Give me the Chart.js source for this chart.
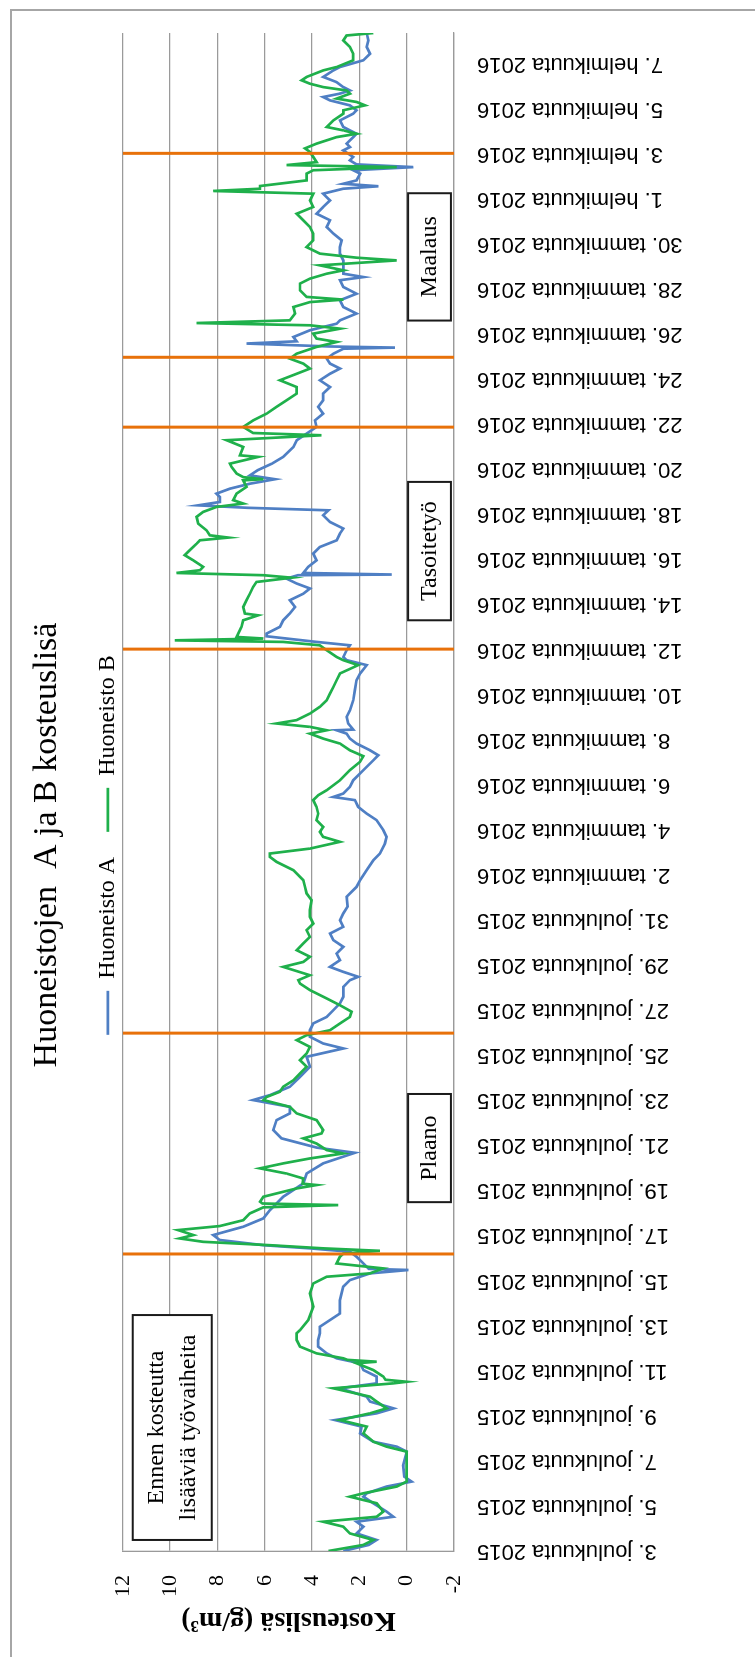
<!DOCTYPE html>
<html lang="fi">
<head>
<meta charset="utf-8">
<title>Huoneistojen A ja B kosteuslisä</title>
<script src="https://cdn.jsdelivr.net/npm/chart.js@4.4.1/dist/chart.umd.min.js"></script>
<style>
  html, body { margin: 0; padding: 0; background: #fff; overflow: hidden; }
  body { width: 755px; height: 1657px; position: relative; }
  #frame { position: absolute; left: 10px; top: 9px; width: 760px; height: 1660px;
           border: 2px solid #a6a6a6; box-sizing: border-box; }
  /* chart is drawn landscape and turned a quarter to the left */
  #wrap { position: absolute; left: 0; top: 0; width: 1657px; height: 755px;
          transform-origin: 0 0; transform: translate(0, 1657px) rotate(-90deg); }
</style>
</head>
<body>
<div id="frame"></div>
<div id="wrap"><canvas id="chart" width="1657" height="755"></canvas></div>
<script>
// ── Data (x = days from 3.12.2015, y = g/m³) ─────────────────────────────
const dateLabels = [
  '3. joulukuuta 2015', '5. joulukuuta 2015', '7. joulukuuta 2015', '9. joulukuuta 2015',
  '11. joulukuuta 2015', '13. joulukuuta 2015', '15. joulukuuta 2015', '17. joulukuuta 2015',
  '19. joulukuuta 2015', '21. joulukuuta 2015', '23. joulukuuta 2015', '25. joulukuuta 2015',
  '27. joulukuuta 2015', '29. joulukuuta 2015', '31. joulukuuta 2015',
  '2. tammikuuta 2016', '4. tammikuuta 2016', '6. tammikuuta 2016', '8. tammikuuta 2016',
  '10. tammikuuta 2016', '12. tammikuuta 2016', '14. tammikuuta 2016', '16. tammikuuta 2016',
  '18. tammikuuta 2016', '20. tammikuuta 2016', '22. tammikuuta 2016', '24. tammikuuta 2016',
  '26. tammikuuta 2016', '28. tammikuuta 2016', '30. tammikuuta 2016',
  '1. helmikuuta 2016', '3. helmikuuta 2016', '5. helmikuuta 2016', '7. helmikuuta 2016'
];

const daysA = [
  0, 0.27, 0.49, 0.78, 1.08, 1.3, 1.52, 1.75, 2.12, 2.41, 2.56, 2.86, 3.08, 3.3, 3.8, 4.41, 4.63, 4.85,
  5.22, 5.52, 5.81, 6.11, 6.33, 6.63, 6.85, 7.22, 7.44, 7.74, 8.03, 8.33, 8.55, 8.77, 9.07, 9.36, 9.66, 9.95,
  10.54, 11.13, 11.73, 12.02, 12.32, 12.47, 12.52, 12.76, 13.06, 13.28, 13.43, 13.57, 13.8, 14.02, 14.39,
  14.76, 15.13, 15.72, 16.31, 16.75, 17.2, 17.67, 17.9, 18.31, 18.68, 19.12, 19.42, 19.71, 20.01, 20.23,
  20.6, 21.04, 21.49, 21.93, 22.3, 22.52, 22.82, 23.11, 23.41, 23.7, 24, 24.3, 24.59, 25.03, 25.33, 25.48,
  25.7, 25.92, 26.22, 26.51, 26.81, 27.11, 27.4, 27.7, 27.99, 28.29, 28.6, 29.03, 29.47, 29.77, 30.21,
  30.65, 30.95, 31.39, 31.69, 31.99, 32.43, 32.72, 33.02, 33.32, 33.46, 33.61, 33.91, 34.2, 34.65, 35.09,
  35.31, 35.53, 35.83, 36.05, 36.27, 36.42, 36.45, 36.72, 37.01, 37.31, 37.75, 38.2, 38.64, 38.94, 39.31,
  39.53, 39.67, 39.97, 40.19, 40.34, 40.59, 40.71, 41.01, 41.3, 41.6, 41.89, 42.19, 42.48, 42.71, 42.93,
  43.15, 43.3, 43.33, 43.4, 43.67, 43.96, 44.26, 44.55, 44.85, 45.15, 45.37, 45.66, 45.96, 46.18, 46.29,
  46.4, 46.55, 46.77, 46.92, 47.14, 47.36, 47.56, 47.73, 47.96, 48.25, 48.55, 48.99, 49.29, 49.58, 49.88,
  50.17, 50.47, 50.77, 51.06, 51.36, 51.65, 51.95, 52.24, 52.47, 52.69, 52.91, 53.13, 53.35, 53.4, 53.45,
  53.58, 53.68, 53.87, 54.17, 54.46, 54.61, 54.91, 55.2, 55.5, 55.79, 56.09, 56.39, 56.53, 56.68, 56.98,
  57.27, 57.57, 57.86, 58.16, 58.46, 58.75, 59.05, 59.34, 59.64, 59.93, 60.23, 60.45, 60.56, 60.67, 60.82,
  61.12, 61.27, 61.41, 61.53, 61.71, 61.86, 62.15, 62.3, 62.45, 62.74, 62.89, 63.04, 63.19, 63.48, 63.78,
  63.93, 64.15, 64.37, 64.52, 64.67, 64.81, 64.96, 65.18, 65.41, 65.7, 65.85, 66.15, 66.44, 66.74, 67.03, 67.36
];
const kosteusA = [
  2.68, 1.6, 1.27, 2.12, 1.83, 2.12, 0.56, 0.85, 1.41, 1.83, 1.69, 0.85, -0.21, 0.1, 0.15, 0, 0.42, 1.41,
  1.97, 1.9, 3.03, 1.27, 0.56, 1.55, 1.69, 2.82, 1.27, 1.27, 1.83, 1.97, 2.96, 3.38, 3.74, 3.74, 3.67, 3.67,
  2.82, 2.82, 2.68, 2.4, 1.55, -0.07, 1.6, 1.83, 2.12, 2.4, 4.09, 6.06, 7.9, 8.18, 6.91,
  6.06, 5.78, 5.22, 4.37, 4.23, 3.53, 2.19, 3.8, 5.29, 5.64, 5.5, 4.94, 4.94, 6.49, 5.78,
  4.94, 4.51, 4.09, 4.23, 2.68, 3.53, 4.09, 4.09, 3.95, 3.38, 3.1, 2.82, 2.68, 2.68, 2.4, 2.05,
  2.68, 3.24, 2.82, 2.96, 2.68, 3.1, 3.24, 2.68, 2.82, 2.68, 2.5, 2.54, 2.12, 1.97, 1.69,
  1.41, 1.13, 0.92, 0.85, 0.99, 1.27, 1.69, 2.05, 2.19, 3.1, 2.68, 2.4, 2.26, 1.83, 1.41,
  1.2, 1.55, 2.12, 2.4, 2.54, 2.96, 2.26, 2.47, 2.54, 2.4, 2.26, 2.19, 2.12, 1.97, 1.69,
  2.54, 2.68, 2.54, 2.4, 3.81, 5.92, 5.92, 5.36, 5.22, 4.94, 4.72, 4.94, 4.37, 4.09, 4.65,
  5.08, 4.6, 0.63, 4.37, 4.16, 3.81, 3.95, 3.67, 2.96, 2.82, 2.68, 3.24, 3.53, 3.31, 6.7,
  8.81, 7.9, 7.9, 8.04, 7.47, 6.63, 5.57, 6.63, 6.3, 5.7, 5.22, 4.79, 4.65, 4.23, 3.81,
  3.88, 3.53, 3.74, 3.53, 3.53, 3.24, 3.67, 3.24, 2.82, 3.24, 3.38, 3.1, 2.68, 0.49, 3.24,
  6.77, 4.65, 4.79, 4.09, 2.96, 2.82, 2.12, 2.68, 2.82, 2.12, 2.68, 2.82, 1.83, 2.68, 2.68,
  2.68, 2.82, 2.82, 2.75, 3.1, 3.38, 3.24, 3.81, 3.53, 3.24, 3.53, 2.68, 1.2, 2.68, 2.12,
  1.97, 2.26, -0.28, 2.12, 2.4, 2.26, 2.68, 2.4, 2.54, 2.26, 2.12, 2.4, 2.68, 2.82, 2.26,
  2.12, 2.4, 3.24, 3.53, 2.82, 2.4, 2.68, 2.96, 3.53, 3.1, 2.82, 1.83, 1.55, 1.69, 1.62, 1.69
];

const daysB = [
  0, 0.27, 0.49, 0.78, 1.08, 1.3, 1.52, 1.75, 2.12, 2.41, 2.56, 2.86, 3.08, 4.41, 4.63, 4.85, 5.22, 5.52,
  5.81, 6.11, 6.33, 6.63, 6.85, 7.22, 7.44, 7.51, 7.6, 7.74, 8.03, 8.33, 8.4, 8.48, 8.55, 8.77, 9.07, 9.36,
  9.66, 9.8, 10.25, 10.84, 11.43, 11.87, 12.17, 12.32, 12.54, 12.76, 13.06, 13.2, 13.32, 13.43, 13.57,
  13.72, 13.87, 14.02, 14.24, 14.42, 14.68, 14.98, 15.25, 15.35, 15.42, 15.5, 15.72, 16.09, 16.24, 16.3,
  16.53, 16.75, 16.98, 17.2, 17.42, 17.64, 17.79, 18.08, 18.31, 18.53, 18.68, 19.12, 19.42, 19.71, 20.01,
  20.15, 20.38, 20.6, 20.89, 21.19, 21.49, 21.78, 22.08, 22.37, 22.67, 22.89, 23.11, 23.41, 23.7, 23.93,
  24.22, 24.52, 24.89, 25.18, 25.33, 25.55, 25.92, 26.14, 26.37, 26.66, 26.96, 27.25, 27.55, 27.84, 28.14,
  28.44, 28.88, 29.18, 29.47, 29.77, 30.21, 30.58, 30.8, 30.95, 31.17, 31.47, 31.69, 31.91, 32.13, 32.43,
  32.72, 33.02, 33.32, 33.54, 33.76, 34.2, 34.65, 35.02, 35.27, 35.53, 35.83, 36.05, 36.27, 36.42, 36.57,
  36.72, 36.87, 37.16, 37.46, 37.75, 38.05, 38.34, 38.64, 38.94, 39.31, 39.53, 39.67, 39.97, 40.19, 40.34,
  40.41, 40.49, 40.56, 40.71, 41.01, 41.3, 41.52, 41.6, 41.89, 42.19, 42.48, 42.78, 43, 43.19, 43.3, 43.4,
  43.52, 43.67, 43.96, 44.19, 44.41, 44.7, 44.85, 44.97, 45.07, 45.29, 45.59, 45.89, 46.11, 46.33, 46.48,
  46.63, 46.92, 47.22, 47.51, 47.56, 47.65, 47.81, 48.1, 48.25, 48.55, 48.62, 48.99, 49.29, 49.51, 49.61,
  49.88, 50.17, 50.47, 50.77, 51.06, 51.36, 51.65, 51.95, 52.24, 52.47, 52.69, 52.91, 53.13, 53.43, 53.65,
  53.8, 54.02, 54.24, 54.39, 54.49, 54.61, 54.91, 55.2, 55.42, 55.53, 55.65, 55.94, 56.24, 56.46, 56.68,
  56.83, 57.05, 57.27, 57.39, 57.57, 57.86, 58.16, 58.46, 58.75, 59.05, 59.34, 59.64, 59.93, 60.23, 60.35,
  60.45, 60.57, 60.82, 61.12, 61.27, 61.41, 61.5, 61.63, 61.86, 62.08, 62.24, 62.45, 62.74, 62.89, 63.04,
  63.19, 63.48, 63.78, 63.93, 64.15, 64.3, 64.45, 64.67, 64.81, 64.96, 65.11, 65.26, 65.41, 65.7, 65.85,
  66.15, 66.44, 66.74, 67.03, 67.25, 67.36
];
const kosteusB = [
  3.31, 1.83, 1.41, 2.4, 2.68, 3.53, 1.27, 0.99, 1.27, 2.4, 1.83, 0.42, 0, 0, 0.85, 1.41, 1.83, 1.69,
  2.82, 1.55, 0.85, 1.27, 1.55, 3.1, 0.56, 0, 0.9, 0.99, 1.41, 2.12, 1.27, 2.5, 2.68, 3.81, 4.51, 4.65,
  4.65, 4.51, 4.16, 3.95, 4.09, 3.95, 3.38, 1.55, 0.99, 2.96, 2.82, 2.68, 1.13, 3.53, 5.78,
  8.6, 9.59, 9.02, 9.66, 7.9, 6.91, 6.63, 6.06, 2.89, 6.1, 6.2, 6.06, 4.65, 3.81, 4.4,
  4.37, 5.08, 6.2, 5.22, 4.09, 2.68, 3.38, 3.81, 4.37, 3.6, 3.53, 3.81, 4.65, 4.94, 6.06,
  5.92, 5.36, 5.22, 4.79, 4.51, 4.23, 4.51, 4.23, 4.09, 4.65, 4.23, 3.24, 2.82, 2.4, 2.33,
  2.82, 3.38, 4.09, 4.51, 4.58, 4.09, 5.22, 4.37, 4.09, 4.65, 4.37, 4.09, 4.23, 3.95, 4.09,
  4.09, 4.02, 4.23, 4.3, 4.37, 4.79, 5.5, 5.78, 5.78, 4.09, 2.82, 3.53, 3.67, 3.53, 3.81,
  3.74, 3.81, 3.95, 3.74, 3.38, 2.82, 2.4, 1.97, 1.83, 2.4, 2.82, 3.53, 4.09, 3.38, 4.09,
  5.5, 4.65, 4.09, 3.67, 3.38, 3.24, 3.1, 2.96, 2.82, 2.05, 2.68, 2.96, 3.38, 3.67, 5.22,
  9.8, 6.06, 7.19, 7.12, 6.98, 6.91, 6.28, 6.84, 6.91, 6.77, 6.63, 6.49, 6.35, 4.87, 6.06, 9.73,
  8.74, 8.6, 9.02, 9.38, 9.17, 8.88, 8.74, 7.54, 8.32, 8.46, 8.81, 8.88, 8.6, 8.04, 6.91,
  7.33, 7.19, 6.77, 6.91, 6.06, 6.9, 7.19, 7.4, 7.47, 6.28, 7.05, 6.91, 7.61, 3.6, 6.49,
  6.91, 6.49, 5.92, 5.5, 5.08, 4.65, 4.65, 5.36, 4.65, 4.09, 4.37, 4.94, 4.65, 3.81, 2.96,
  3.81, 3.95, 2.82, 4.09, 8.88, 4.94, 4.72, 4.79, 4.09, 2.68, 4.23, 4.51, 4.51, 4.09, 3.38,
  2.68, 3.67, 0.42, 2.12, 3.67, 4.23, 3.95, 3.95, 4.09, 4.37, 4.65, 3.95, 4.09, 3.95, 8.18,
  6.2, 6.2, 4.23, 4.23, 3.95, 0.42, 5.08, 3.81, 3.95, 4.09, 4.3, 3.81, 2.96, 2.12, 2.68,
  3.38, 3.1, 2.68, 2.68, 1.76, 2.12, 2.96, 2.4, 2.54, 3.53, 4.09, 4.44, 4.23, 3.53, 2.96,
  2.26, 2.26, 2.4, 2.68, 2.54, 1.41
];

// work phase borders (orange lines), in days
const phaseLineDays = [13.18, 22.98, 40.02, 49.87, 52.97, 62.02];

// text boxes inside the plot
const notes = [
  { lines: ['Ennen kosteutta', 'lisääviä työvaiheita'], from: 0.49, to: 10.47, top: 11.58, bottom: 8.24 },
  { lines: ['Plaano'],     from: 15.48, to: 20.28, top: -0.06, bottom: -1.87 },
  { lines: ['Tasoitetyö'], from: 41.3,  to: 47.44, top: -0.06, bottom: -1.87 },
  { lines: ['Maalaus'],    from: 54.6,  to: 60.25, top: -0.06, bottom: -1.87 }
];

// ── Chart ─────────────────────────────────────────────────────────────────
Chart.defaults.font.family = "'Liberation Serif', 'Times New Roman', serif";
Chart.defaults.color = '#000';

const notesPlugin = {
  id: 'notes',
  afterDatasetsDraw(chart) {
    const { ctx, scales: { x, y } } = chart;
    ctx.save();
    notes.forEach(n => {
      const l = x.getPixelForValue(n.from), r = x.getPixelForValue(n.to);
      const t = y.getPixelForValue(n.top),  b = y.getPixelForValue(n.bottom);
      ctx.fillStyle = '#fff';
      ctx.fillRect(l, t, r - l, b - t);
      ctx.strokeStyle = '#1a1a1a';
      ctx.lineWidth = 2;
      ctx.strokeRect(l, t, r - l, b - t);
      ctx.fillStyle = '#000';
      ctx.font = "24px 'Liberation Serif', serif";
      ctx.textAlign = 'center';
      ctx.textBaseline = 'middle';
      const cx = (l + r) / 2, cy = (t + b) / 2;
      n.lines.forEach((txt, i) => ctx.fillText(txt, cx, cy + (i - (n.lines.length - 1) / 2) * 32));
    });
    ctx.restore();
  }
};

const phaseSets = phaseLineDays.map(d => ({
  label: 'vaihe',
  data: [{ x: d, y: -2 }, { x: d, y: 12 }],
  borderColor: '#e8710a', borderWidth: 3, pointRadius: 0, order: 0
}));

const chart = new Chart(document.getElementById('chart'), {
  type: 'line',
  data: {
    datasets: [
      { label: 'Huoneisto A', data: daysA.map((d, i) => ({ x: d, y: kosteusA[i] })),
        borderColor: '#4f7fc4', borderWidth: 2.7, pointRadius: 0, tension: 0, order: 2 },
      { label: 'Huoneisto B', data: daysB.map((d, i) => ({ x: d, y: kosteusB[i] })),
        borderColor: '#1fb04b', borderWidth: 2.7, pointRadius: 0, tension: 0, order: 1 },
      ...phaseSets
    ]
  },
  options: {
    responsive: false,
    animation: false,
    layout: { padding: { left: 0, right: 33, top: 0, bottom: 0 } },
    plugins: {
      title: { display: true, text: 'Huoneistojen  A ja B kosteuslisä', color: '#000',
               font: { size: 34, weight: 'normal' }, padding: { top: 27, bottom: 3 } },
      legend: {
        position: 'top', maxHeight: 52,
        labels: {
          color: '#000', font: { size: 24 }, padding: 25,
          usePointStyle: true, pointStyle: 'line', pointStyleWidth: 44,
          filter: item => item.datasetIndex < 2,
          sort: (a, b) => a.datasetIndex - b.datasetIndex
        }
      },
      tooltip: { enabled: false }
    },
    scales: {
      x: {
        type: 'linear', min: 0, max: 67.36,
        afterFit: s => { s.height = 301; },
        grid: { display: false, drawTicks: false },
        border: { display: true, color: '#9a9a9a', width: 1.3 },
        ticks: {
          stepSize: 2, includeBounds: false, autoSkip: false, maxTicksLimit: 100,
          minRotation: 90, maxRotation: 90, padding: 23, color: '#000',
          font: { family: "'Liberation Sans', Arial, sans-serif", size: 22 },
          callback: v => dateLabels[Math.round(v / 2)]
        }
      },
      y: {
        min: -2, max: 12,
        afterFit: s => { s.width = 106; },
        grid: { color: '#9a9a9a', lineWidth: 1.3, drawTicks: false },
        border: { display: true, color: '#9a9a9a', width: 1.3 },
        ticks: { stepSize: 2, padding: 24, color: '#000', font: { size: 22 } },
        title: { display: true, text: 'Kosteuslisä (g/m³)', color: '#000',
                 font: { size: 28, weight: 'bold' }, padding: { top: 20, bottom: 0 } }
      }
    }
  },
  plugins: [notesPlugin]
});
</script>
</body>
</html>
